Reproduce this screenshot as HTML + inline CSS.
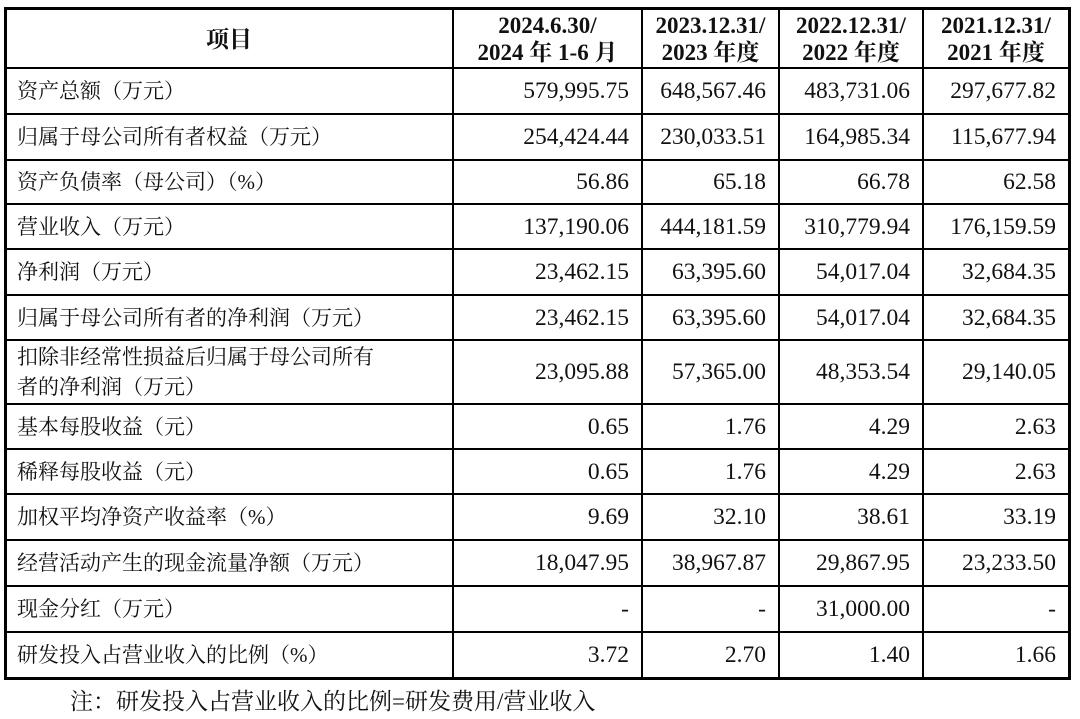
<!DOCTYPE html><html><head><meta charset="utf-8"><style>
body{margin:0;width:1080px;height:719px;background:#fff;position:relative;overflow:hidden;font-family:"Liberation Serif","Noto Serif CJK SC",serif;color:#111}
.h{position:absolute;background:#000}
.c{position:absolute;font-size:21px;line-height:24px;display:flex;align-items:center;box-sizing:border-box}
.r{justify-content:flex-end;padding-right:13px;font-size:23.5px}
.l{padding-left:12px}
.hd{justify-content:center;text-align:center;font-weight:bold;font-size:23px;line-height:27px;padding-top:2px}
</style></head><body>
<div id="t"></div>
<div style="position:absolute;left:70px;top:683px;font-size:23px">注：研发投入占营业收入的比例=研发费用/营业收入</div>
<script>
var ys=[8,68,114,160,204,249,295,340,404,449,494,540,586,632,678];
var xs=[5,453,642,779,923,1069];
var rows=[
["资产总额（万元）","579,995.75","648,567.46","483,731.06","297,677.82"],
["归属于母公司所有者权益（万元）","254,424.44","230,033.51","164,985.34","115,677.94"],
["资产负债率（母公司）（%）","56.86","65.18","66.78","62.58"],
["营业收入（万元）","137,190.06","444,181.59","310,779.94","176,159.59"],
["净利润（万元）","23,462.15","63,395.60","54,017.04","32,684.35"],
["归属于母公司所有者的净利润（万元）","23,462.15","63,395.60","54,017.04","32,684.35"],
["扣除非经常性损益后归属于母公司所有<br>者的净利润（万元）","23,095.88","57,365.00","48,353.54","29,140.05"],
["基本每股收益（元）","0.65","1.76","4.29","2.63"],
["稀释每股收益（元）","0.65","1.76","4.29","2.63"],
["加权平均净资产收益率（%）","9.69","32.10","38.61","33.19"],
["经营活动产生的现金流量净额（万元）","18,047.95","38,967.87","29,867.95","23,233.50"],
["现金分红（万元）","-","-","31,000.00","-"],
["研发投入占营业收入的比例（%）","3.72","2.70","1.40","1.66"]];
var hd=["项目","2024.6.30/<br>2024 年 1-6 月","2023.12.31/<br>2023 年度","2022.12.31/<br>2022 年度","2021.12.31/<br>2021 年度"];
var s="";
for(var i=0;i<ys.length;i++){var w=(i==0||i==ys.length-1)?3:2;s+='<div class="h" style="left:5px;width:1066px;top:'+(ys[i]-1)+'px;height:'+w+'px"></div>';}
for(var j=0;j<xs.length;j++){var w=(j==0||j==xs.length-1)?3:2;s+='<div class="h" style="top:7px;height:673px;left:'+(xs[j]-1)+'px;width:'+w+'px"></div>';}
for(var j=0;j<5;j++)s+='<div class="c hd" style="left:'+xs[j]+'px;width:'+(xs[j+1]-xs[j])+'px;top:'+ys[0]+'px;height:'+(ys[1]-ys[0])+'px">'+hd[j]+'</div>';
for(var i=0;i<rows.length;i++)for(var j=0;j<5;j++)s+='<div class="c '+(j?'r':'l')+'" style="left:'+xs[j]+'px;width:'+(xs[j+1]-xs[j])+'px;top:'+ys[i+1]+'px;height:'+(ys[i+2]-ys[i+1])+'px;'+(j==0&&i==6?'line-height:30px':'')+'">'+rows[i][j]+'</div>';
document.getElementById('t').innerHTML=s;
</script></body></html>
